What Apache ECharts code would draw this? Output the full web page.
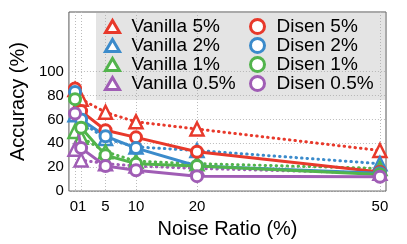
<!DOCTYPE html>
<html>
<head>
<meta charset="utf-8">
<script src="https://cdn.jsdelivr.net/npm/echarts@6/dist/echarts.min.js"></script>
<style>html,body{margin:0;padding:0;background:#fff}#c{width:407px;height:244px}</style>
</head>
<body>
<div id="c"></div>
<script>
var noiseRatio = [0, 1, 5, 10, 20, 50];
var xTicks = [0, 1, 5, 10, 20, 50];
var yTicks = [0, 20, 40, 60, 80, 100];

var vanilla5 = [85, 77, 66, 58, 52, 34];
var vanilla2 = [64, 58, 44, 37, 34, 23];
var vanilla1 = [50, 45, 33, 25, 23, 19];
var vanilla05 = [35, 26, 23, 21, 19, 15];

var disen5 = [86, 67, 51, 45, 33, 16];
var disen2 = [83, 60, 46, 36, 21, 15];
var disen1 = [77, 53, 30, 23, 21, 14];
var disen05 = [65, 36, 21, 17.5, 12.5, 12];

var vanillaNames = ['Vanilla 5%', 'Vanilla 2%', 'Vanilla 1%', 'Vanilla 0.5%'];
var disenNames = ['Disen 5%', 'Disen 2%', 'Disen 1%', 'Disen 0.5%'];
var colors = ['#e8392b', '#3b8bcb', '#52b44c', '#a05db5'];

function pairs(ys) { return noiseRatio.map(function (x, i) { return [x, ys[i]]; }); }

var vanillaData = [vanilla5, vanilla2, vanilla1, vanilla05];
var disenData = [disen5, disen2, disen1, disen05];

var series = [];
vanillaData.forEach(function (d, i) {
  series.push({
    name: vanillaNames[i], type: 'line', data: pairs(d),
    symbol: 'triangle', symbolSize: 13, z: 2,
    lineStyle: { color: colors[i], width: 3, type: [0.5, 5], cap: 'round' },
    itemStyle: { color: '#fff', borderColor: colors[i], borderWidth: 2.5 }
  });
});
disenData.forEach(function (d, i) {
  series.push({
    name: disenNames[i], type: 'line', data: pairs(d),
    symbol: 'circle', symbolSize: 11, z: 3,
    lineStyle: { color: colors[i], width: 3 },
    itemStyle: { color: '#fff', borderColor: colors[i], borderWidth: 3 }
  });
});

function legendData(names, icon) {
  return names.map(function (n, i) {
    return { name: n, icon: icon, itemStyle: { color: '#fff', borderColor: colors[i], borderWidth: 3 } };
  });
}

// labels 0 and 1 sit 6px apart; draw them as one label at 0 (as in the original "01")
var xLabelValues = xTicks.filter(function (v) { return v !== 1; });

var font = 'Liberation Sans, Arial, Helvetica, sans-serif';
var chart = echarts.init(document.getElementById('c'), null, { renderer: 'canvas' });
chart.setOption({
  animation: false,
  textStyle: { fontFamily: font },
  grid: { left: 62, right: 21, top: 12, bottom: 52, show: true, borderColor: '#555', borderWidth: 1, backgroundColor: 'transparent' },
  graphic: [{
    type: 'rect', left: 96, top: 12, z: 1,
    shape: { width: 290, height: 88 },
    style: { fill: 'rgba(170,170,170,0.32)' }
  }],
  legend: [{
    data: legendData(vanillaNames, 'triangle'),
    orient: 'vertical', left: 104, top: 17, padding: 0, itemGap: 0,
    itemWidth: 14, itemHeight: 12, z: 5,
    textStyle: { fontSize: 19, color: '#000', lineHeight: 19, padding: [0, 0, 0, 7], fontFamily: font }
  }, {
    data: legendData(disenNames, 'circle'),
    orient: 'vertical', left: 249, top: 17, padding: 0, itemGap: 0,
    itemWidth: 14, itemHeight: 14, z: 5,
    textStyle: { fontSize: 19, color: '#000', lineHeight: 19, padding: [0, 0, 0, 7], fontFamily: font }
  }],
  xAxis: {
    type: 'value', min: -1, max: 51,
    name: 'Noise Ratio (%)', nameLocation: 'middle', nameGap: 26,
    nameTextStyle: { fontSize: 20, color: '#000', fontFamily: font },
    axisLine: { show: false },
    axisTick: { show: false, customValues: xTicks },
    axisLabel: {
      customValues: xLabelValues, hideOverlap: false, fontSize: 15, color: '#000', margin: 8, fontFamily: font,
      formatter: function (v) { return v === 0 ? '{z|' + xTicks[0] + xTicks[1] + '}' : String(v); },
      rich: { z: { fontSize: 15, fontFamily: font, color: '#000', padding: [0, 0, 0, 6], letterSpacing: -1 } }
    },
    splitLine: { show: true, lineStyle: { color: '#bbb', type: [1, 2], width: 1 } }
  },
  yAxis: {
    type: 'value', min: 0, max: 150,
    name: 'Accuracy (%)', nameLocation: 'middle', nameGap: 36,
    nameTextStyle: { fontSize: 20, color: '#000', fontFamily: font },
    axisLine: { show: false },
    axisTick: { show: false, customValues: yTicks },
    axisLabel: { customValues: yTicks, fontSize: 15, color: '#000', margin: 5, fontFamily: font },
    splitLine: { show: true, lineStyle: { color: '#bbb', type: [1, 2], width: 1 } }
  },
  series: series
});
</script>
</body>
</html>
